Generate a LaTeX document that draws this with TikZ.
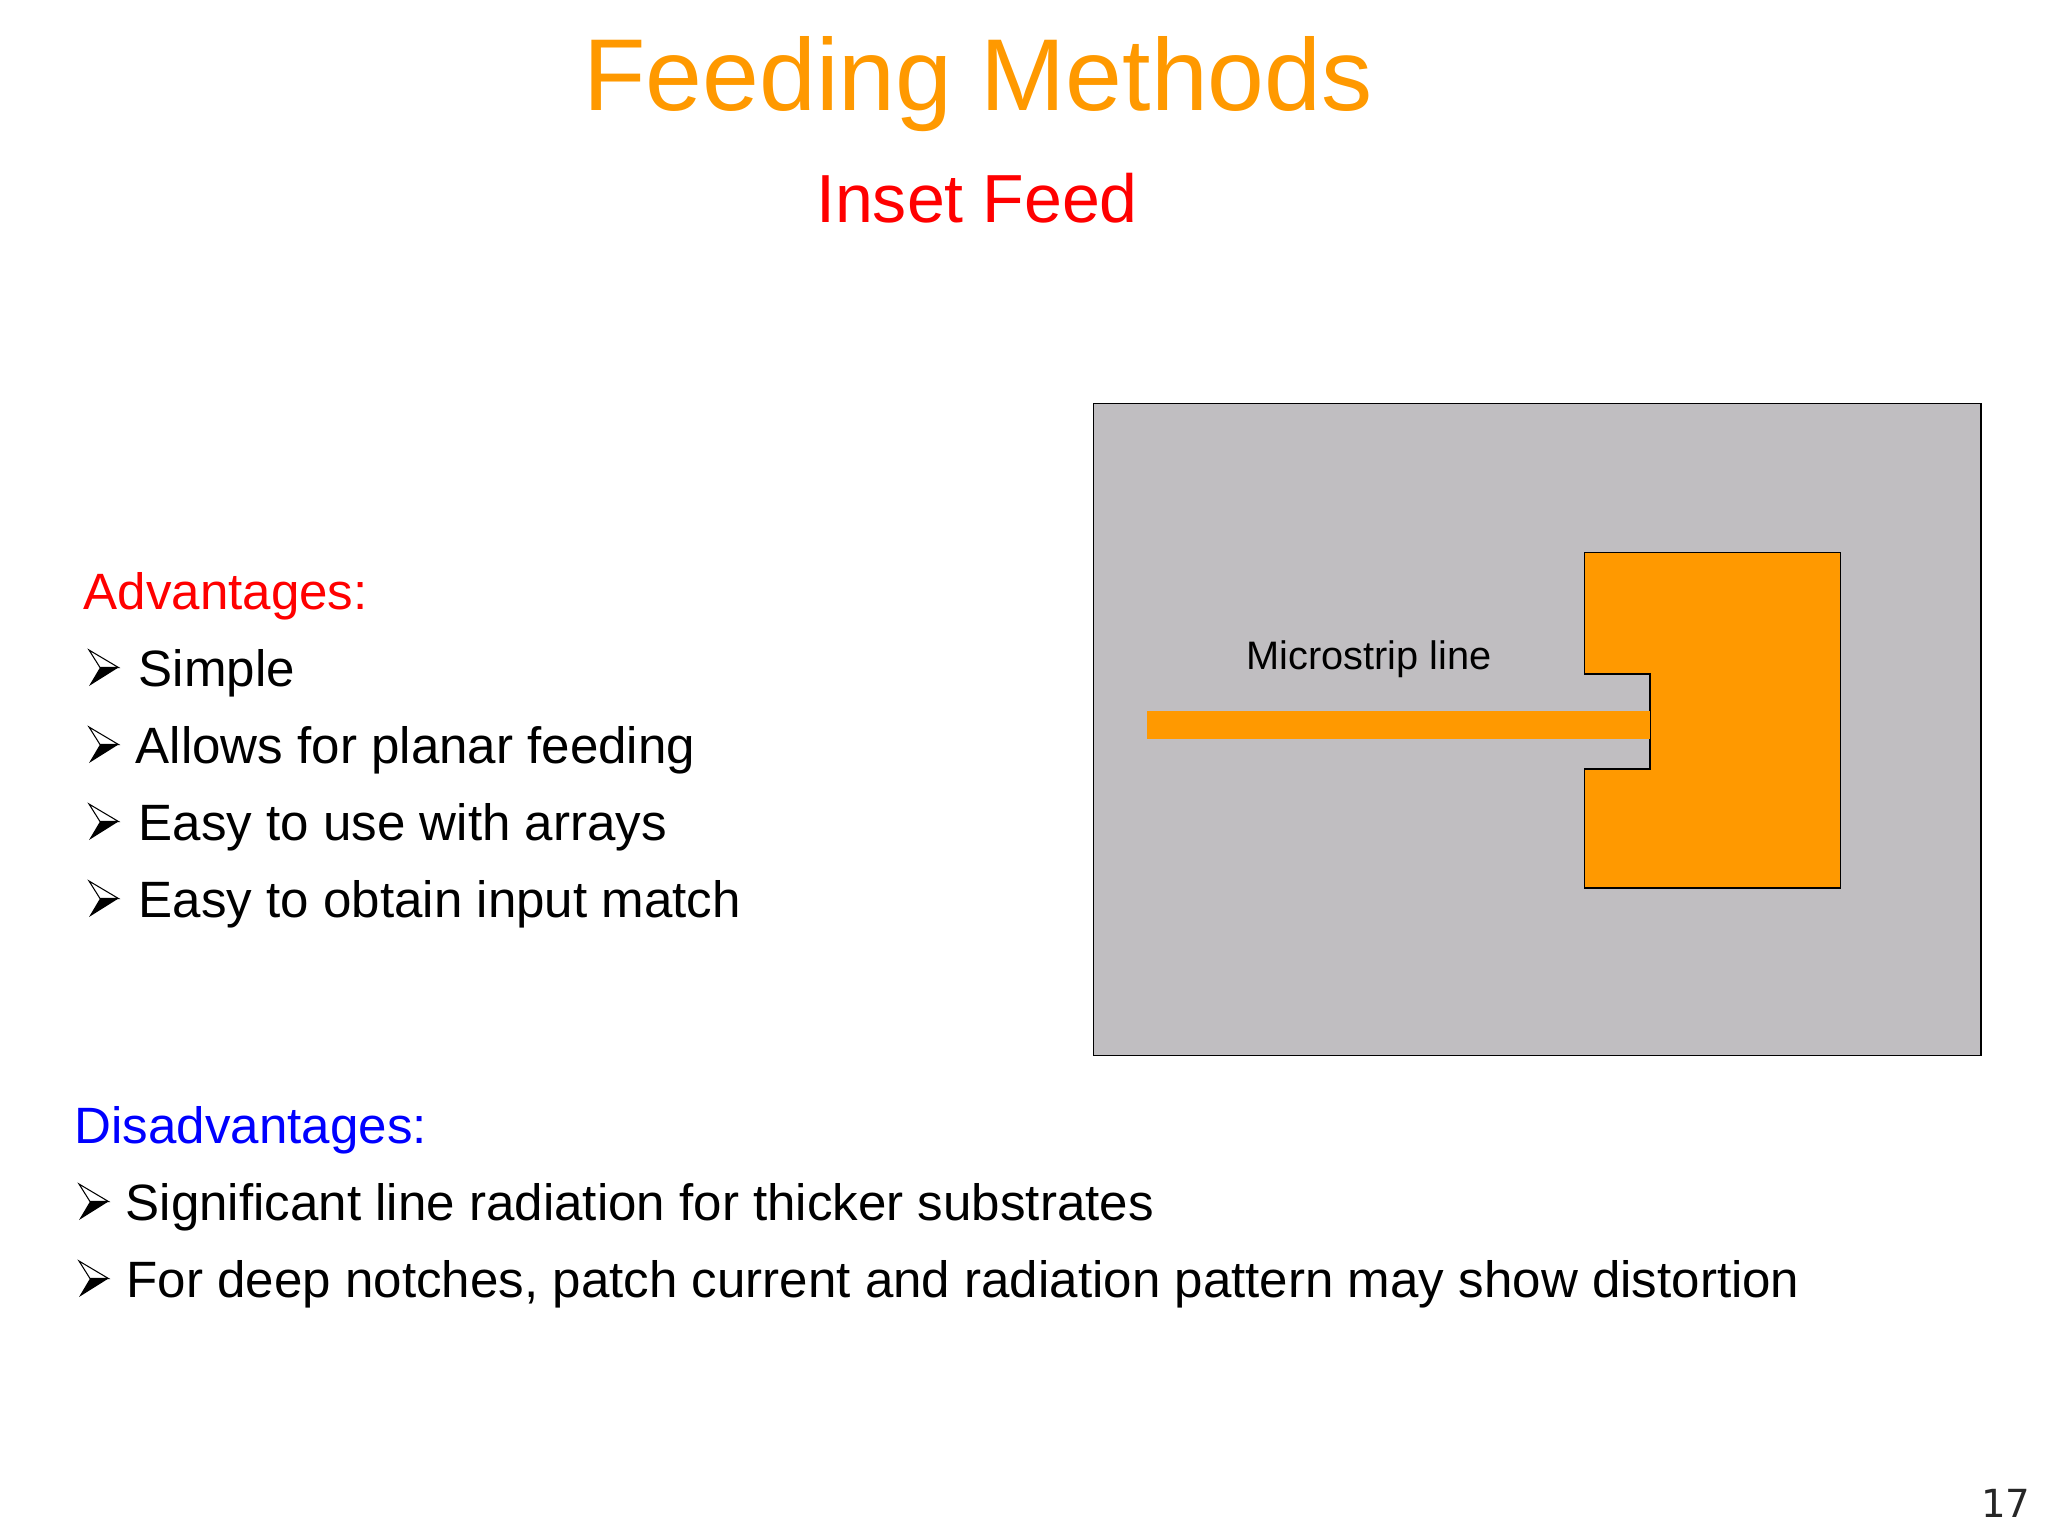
\documentclass[tikz,border=0pt]{standalone}
\usepackage{fontspec}
\usepackage{xcolor}
\setmainfont{Liberation Sans}
\newfontfamily\pagefont{DejaVu Sans}
\definecolor{feedorange}{HTML}{FF9900}
\definecolor{substrategray}{HTML}{C0BEC1}
\tikzset{
  txt/.style={anchor=base west, inner sep=0pt, font=\fontsize{14.53}{17}\selectfont},
  pics/arrowbullet/.style={code={
    \draw [line width=0.3pt, line join=miter, fill=white] (0,-36) -- (29.5,-18.5) -- (11,-18.5) -- cycle;
    \fill [black] (0,0) -- (29.5,-18.5) -- (11,-18.5) -- cycle;
  }},
}
\begin{document}
\begin{tikzpicture}[x=0.01cm, y=-0.01cm]
    \useasboundingbox (0,0) rectangle (2048,1536);
    \node [anchor=base, inner sep=0pt, text=feedorange, font=\fontsize{29.05}{34}\selectfont] (title) at (978,110) {Feeding Methods};
    \node [anchor=base, inner sep=0pt, text=red, font=\fontsize{19.35}{23}\selectfont] (subtitle) at (977,222) {Inset Feed};
    % left column
    \node [txt, text=red] (adv) at (83,609) {Advantages:};
    \pic at (89,686) {arrowbullet};
    \node [txt] (simple) at (138,686) {Simple};
    \pic at (89,763) {arrowbullet};
    \node [txt] (planar) at (135,763) {Allows for planar feeding};
    \pic at (89,840) {arrowbullet};
    \node [txt] (arrays) at (138,840) {Easy to use with arrays};
    \pic at (89,917) {arrowbullet};
    \node [txt] (match) at (138,917) {Easy to obtain input match};
    \node [txt, text=blue] (dis) at (74,1143) {Disadvantages:};
    \pic at (79,1220) {arrowbullet};
    \node [txt] (radiation) at (125,1220) {Significant line radiation for thicker substrates};
    \pic at (79,1297) {arrowbullet};
    \node [txt] (notches) at (126,1297) {For deep notches, patch current and radiation pattern may show distortion};
    % antenna
    \draw [fill=substrategray, line width=0.45pt] (1093.5,403.5) rectangle (1981,1055.5);
    \draw [fill=feedorange, line width=0.45pt] (1584.5,552.5) -- (1840.5,552.5) -- (1840.5,888) -- (1584.5,888) -- (1584.5,769)
        -- (1650,769) -- (1650,674) -- (1584.5,674) -- cycle;
    \fill [feedorange] (1147,711) rectangle (1650,739);
    \node [anchor=base west, inner sep=0pt, font=\fontsize{11.3}{13}\selectfont] (line) at (1246,669) {Microstrip line};
    \node [anchor=base east, inner sep=0pt, text=black!85, font=\pagefont\fontsize{11}{13}\selectfont] (page) at (2031,1517) {17};
\end{tikzpicture}
\end{document}
